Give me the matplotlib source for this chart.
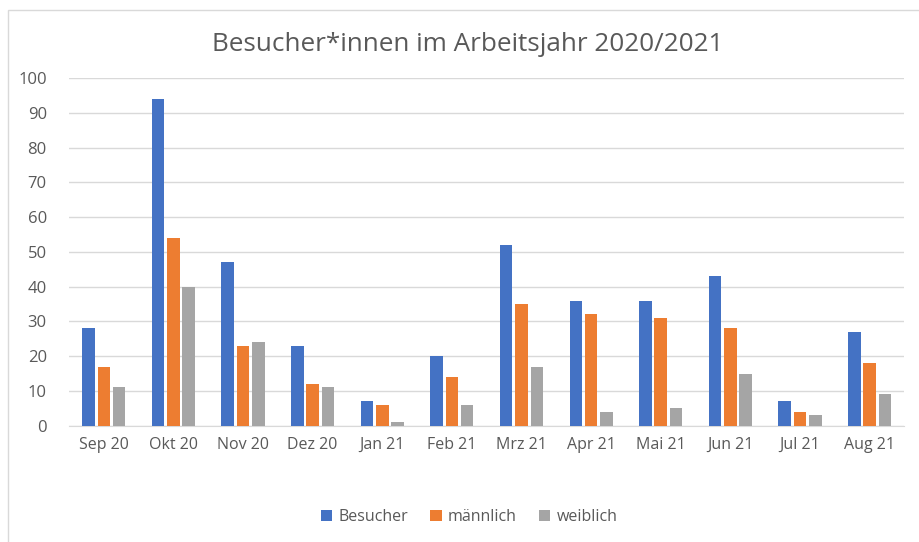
import numpy as np
import matplotlib.pyplot as plt
from matplotlib.patches import Rectangle

plt.rcParams['font.family'] = ['Open Sans', 'DejaVu Sans']

months = ['Sep 20', 'Okt 20', 'Nov 20', 'Dez 20', 'Jan 21', 'Feb 21',
          'Mrz 21', 'Apr 21', 'Mai 21', 'Jun 21', 'Jul 21', 'Aug 21']
besucher = [28, 94, 47, 23, 7, 20, 52, 36, 36, 43, 7, 27]
maennlich = [17, 54, 23, 12, 6, 14, 35, 32, 31, 28, 4, 18]
weiblich = [11, 40, 24, 11, 1, 6, 17, 4, 5, 15, 3, 9]

txt = '#595959'

fig = plt.figure(figsize=(9.2, 5.42), dpi=100)
fig.patches.append(Rectangle((8/920, -0.01), 1.0, 1 - 10/542 + 0.01, transform=fig.transFigure,
                             fill=False, edgecolor='#D9D9D9', linewidth=1))
ax = fig.add_axes([0.075, 0.2146, 0.908, 0.6415])

x = np.arange(len(months))
w = 0.18
step = 0.22
ax.bar(x - step, besucher, w, color='#4472C4', label='Besucher', zorder=3)
ax.bar(x, maennlich, w, color='#ED7D31', label='männlich', zorder=3)
ax.bar(x + step, weiblich, w, color='#A5A5A5', label='weiblich', zorder=3)

ax.set_xlim(-0.5, len(months) - 0.5)
ax.set_ylim(0, 100)
ax.set_yticks(range(0, 101, 10))
ax.set_xticks(x)
ax.set_xticklabels(months)
ax.grid(axis='y', color='#D9D9D9', linewidth=1, zorder=0)
for s in ['top', 'right', 'left']:
    ax.spines[s].set_visible(False)
ax.spines['bottom'].set_color('#D9D9D9')
ax.tick_params(length=0, labelsize=11.5, colors=txt, pad=8)
ax.tick_params(axis='y', labelsize=12, pad=16)

fig.text(0.508, 0.917, 'Besucher*innen im Arbeitsjahr 2020/2021', ha='center', va='center',
         fontsize=18.8, color=txt)

fig.legend(loc='center', bbox_to_anchor=(0.51, 0.046), ncol=3, frameon=False,
           fontsize=11.5, labelcolor=txt, handlelength=0.7, handleheight=0.7,
           handletextpad=0.4, columnspacing=1.4)

fig.savefig('out.png', dpi=100)
